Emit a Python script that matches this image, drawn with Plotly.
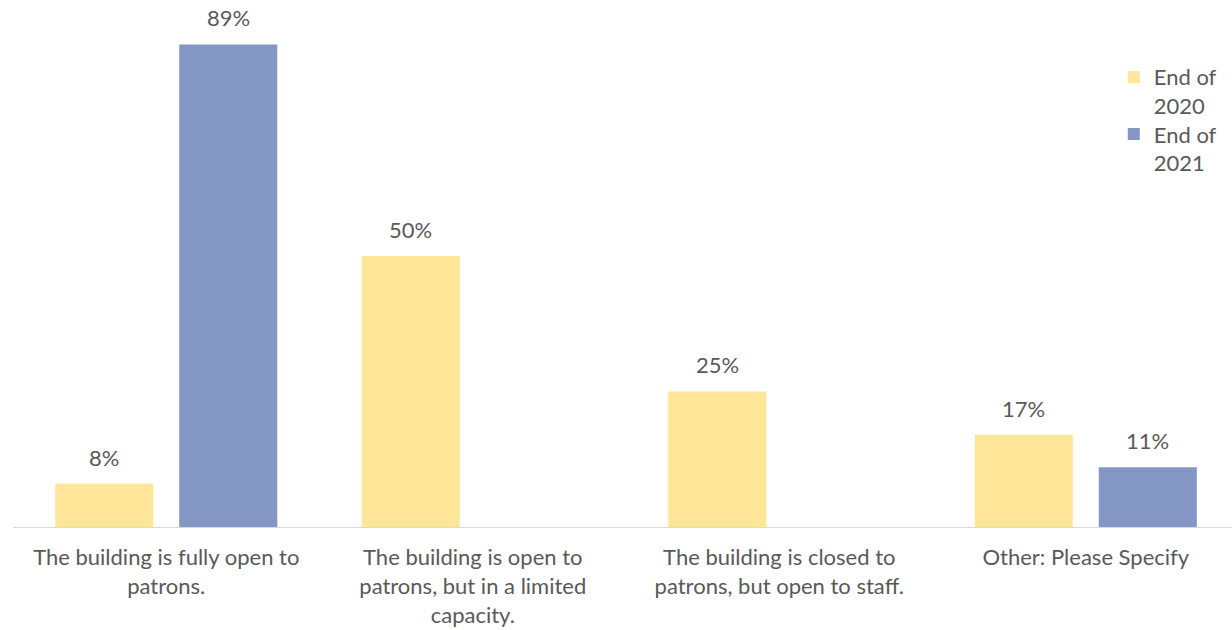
import plotly.graph_objects as go

# Survey responses: building status at the end of each year (percent of respondents)
categories = [
    "The building is fully open to<br>patrons.",
    "The building is open to<br>patrons, but in a limited<br>capacity.",
    "The building is closed to<br>patrons, but open to staff.",
    "Other: Please Specify",
]
end_2020 = [8, 50, 25, 17]
end_2021 = [89, 0, 0, 11]
series_names = ["End of<br>2020", "End of<br>2021"]
colors = ["#FFE699", "#8497C4"]

FONT = "Lato"
TEXT_COLOR = "#595959"
positions = list(range(len(categories)))
half_gap = 0.2023
bar_width = 0.32

fig = go.Figure()
for name, vals, color, shift, leg in [
    (series_names[0], end_2020, colors[0], -half_gap, "legend"),
    (series_names[1], end_2021, colors[1], half_gap, "legend2"),
]:
    fig.add_trace(go.Bar(
        x=[p + shift for p in positions],
        y=vals,
        width=bar_width,
        name=name,
        legend=leg,
        marker=dict(color=color, line=dict(width=0)),
        hoverinfo="skip",
    ))
    # value labels above each non-empty bar
    for p, v in zip(positions, vals):
        if v > 0:
            fig.add_annotation(
                x=p + shift, y=v, text=f"{v}%", showarrow=False,
                yanchor="bottom", yshift=11,
                font=dict(family=FONT, size=22, color=TEXT_COLOR),
            )

legend_style = dict(
    x=0.903, xanchor="left", yanchor="top",
    font=dict(family=FONT, size=22, color=TEXT_COLOR),
    valign="top", bgcolor="rgba(0,0,0,0)", itemwidth=30,
)

fig.update_layout(
    width=1232, height=630,
    margin=dict(l=13, r=0, t=39, b=103),
    paper_bgcolor="white", plot_bgcolor="white",
    barmode="overlay",
    showlegend=True,
    legend=dict(y=0.965, **legend_style),
    legend2=dict(y=0.848, **legend_style),
    xaxis=dict(
        range=[-0.5, 3.477],
        tickvals=positions, ticktext=categories,
        showgrid=False, zeroline=False,
        showline=True, linecolor="#D9D9D9", linewidth=1,
        ticks="", tickfont=dict(family=FONT, size=22, color=TEXT_COLOR),
        ticklabelstandoff=11,
        fixedrange=True,
    ),
    yaxis=dict(
        range=[0, 90], visible=False, showgrid=False, zeroline=False,
        fixedrange=True,
    ),
)

fig.write_html("out.html")
